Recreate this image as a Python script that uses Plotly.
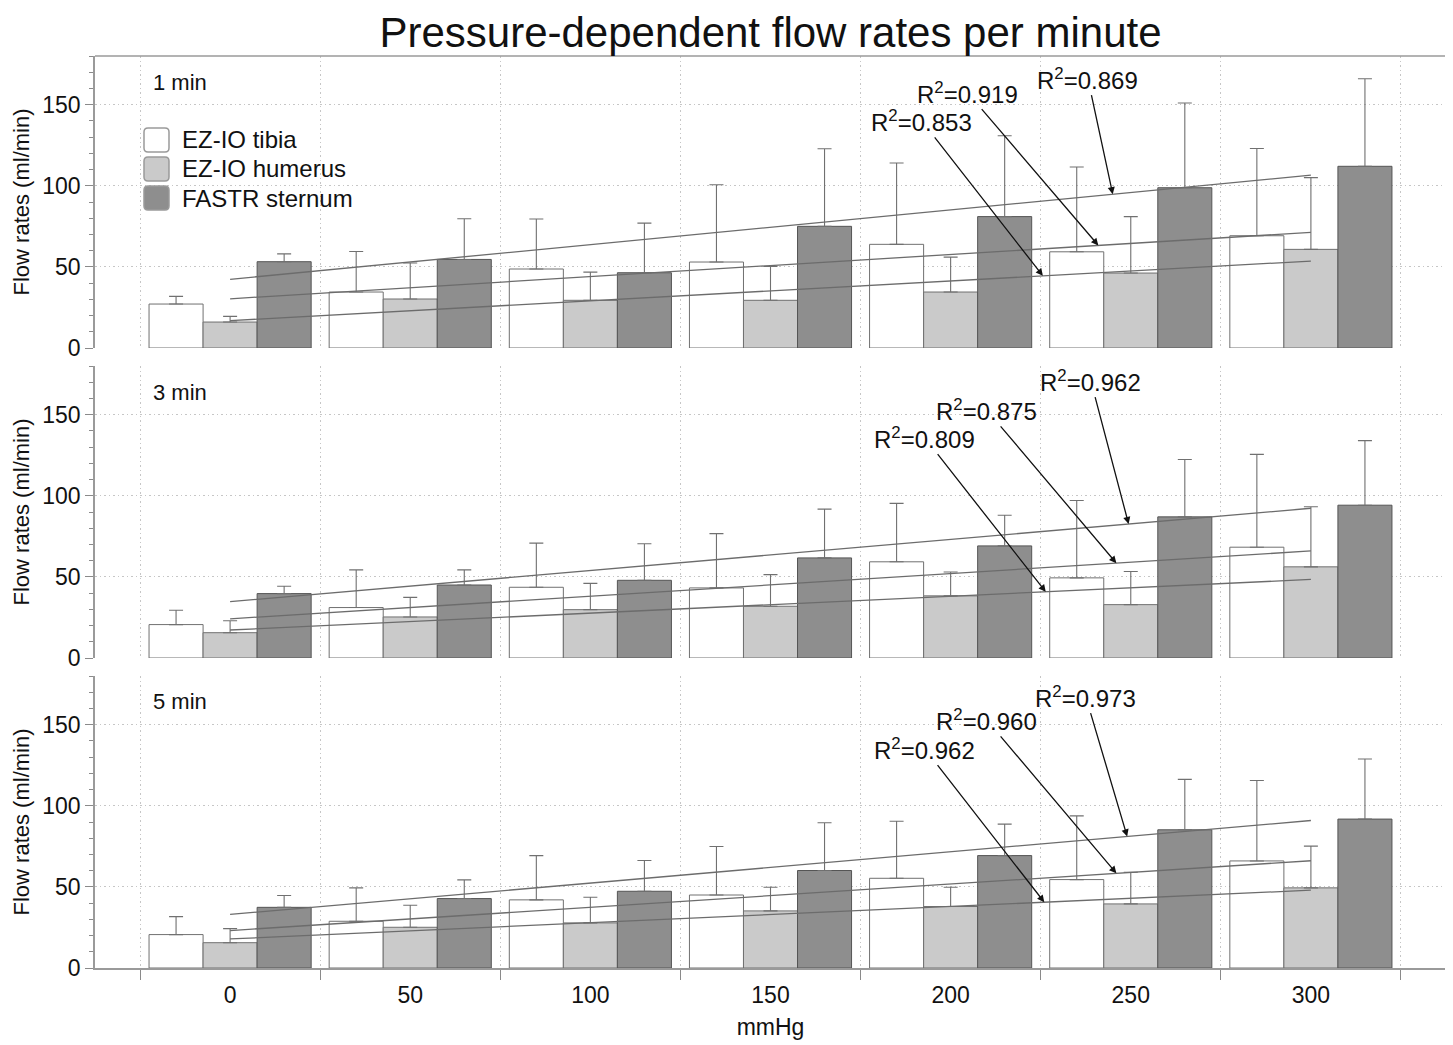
import numpy as np
import plotly.graph_objects as go

# ---------------- data ----------------
pressures = [0, 50, 100, 150, 200, 250, 300]
series_names = ["EZ-IO tibia", "EZ-IO humerus", "FASTR sternum"]
panel_labels = ["1 min", "3 min", "5 min"]

# mean flow rates (ml/min)
tibia_1min = [27.1, 34.5, 48.7, 53.0, 63.9, 59.3, 69.2]
humerus_1min = [16.0, 30.2, 29.4, 29.4, 34.5, 46.2, 60.8]
sternum_1min = [53.2, 54.6, 46.4, 75.0, 81.0, 98.8, 112.0]

tibia_3min = [20.6, 31.1, 43.6, 43.2, 59.3, 49.4, 68.3]
humerus_3min = [15.6, 25.3, 29.8, 31.9, 38.3, 32.9, 56.2]
sternum_3min = [39.7, 45.0, 47.9, 61.7, 69.1, 87.0, 94.2]

tibia_5min = [20.6, 28.8, 42.0, 45.0, 55.3, 54.5, 66.0]
humerus_5min = [15.6, 25.1, 27.8, 35.2, 37.9, 39.5, 49.4]
sternum_5min = [37.4, 42.8, 47.3, 60.1, 69.3, 85.2, 91.8]

# standard deviations (upper error bars)
tibia_1min_sd = [4.7, 25.0, 30.8, 47.6, 50.1, 52.3, 53.8]
humerus_1min_sd = [3.5, 22.2, 17.4, 20.9, 21.5, 34.8, 44.2]
sternum_1min_sd = [4.8, 25.1, 30.6, 47.8, 49.8, 52.2, 54.0]

tibia_3min_sd = [8.8, 23.2, 27.2, 33.5, 36.0, 47.7, 57.2]
humerus_3min_sd = [7.4, 12.1, 16.2, 19.5, 14.7, 20.4, 37.0]
sternum_3min_sd = [4.5, 9.3, 22.5, 30.1, 18.9, 35.4, 39.8]

tibia_5min_sd = [11.1, 20.6, 27.3, 29.9, 35.2, 39.3, 49.6]
humerus_5min_sd = [8.7, 13.6, 15.8, 14.6, 11.9, 19.5, 25.7]
sternum_5min_sd = [7.3, 11.5, 19.0, 29.4, 19.4, 31.1, 37.0]

# R^2 labels (tibia, humerus, sternum)
r2_1min = ["0.919", "0.853", "0.869"]
r2_3min = ["0.875", "0.809", "0.962"]
r2_5min = ["0.960", "0.962", "0.973"]

means = [
    [tibia_1min, humerus_1min, sternum_1min],
    [tibia_3min, humerus_3min, sternum_3min],
    [tibia_5min, humerus_5min, sternum_5min],
]
sds = [
    [tibia_1min_sd, humerus_1min_sd, sternum_1min_sd],
    [tibia_3min_sd, humerus_3min_sd, sternum_3min_sd],
    [tibia_5min_sd, humerus_5min_sd, sternum_5min_sd],
]
r2s = [r2_1min, r2_3min, r2_5min]

# ---------------- styling / layout ----------------
FONT = "Liberation Sans, Arial, Helvetica, sans-serif"
fills = ["#ffffff", "#cacaca", "#8e8e8e"]
outlines = ["#707070", "#707070", "#555555"]
OFF = 8                      # page body margin compensation
W, H = 1453 - OFF, 1045 - OFF
ML, MR, MT, MB = 87, 7, 48, 77
PW, PH = W - ML - MR, H - MT - MB


def paper_x(px):
    return (px - OFF - ML) / PW


def paper_y(py):
    return (H - MB - (py - OFF)) / PH


domains = [[620 / PH, 1.0], [310 / PH, 602 / PH], [0.0, 292 / PH]]
xr = [-37.5, 337.5]
yr = [0, 180]

# annotation arrow targets (x on regression line) and text positions (x, y)
arrow_x = [[241, 225.6, 245], [246, 226.4, 249.4], [246, 226, 249]]
text_pos = [
    [(204.7, 157.4), (192, 140), (238.1, 166)],
    [(210, 153), (192.8, 135.8), (238.9, 171)],
    [(210, 153), (192.8, 135.2), (237.5, 167.3)],
]

fig = go.Figure()
annotations = []
shapes = []

for p in range(3):
    xa = "x" if p == 0 else f"x{p+1}"
    ya = "y" if p == 0 else f"y{p+1}"
    for s in range(3):
        fig.add_trace(go.Bar(
            x=pressures, y=means[p][s], name=series_names[s],
            xaxis=xa, yaxis=ya, showlegend=False,
            marker=dict(color=fills[s], line=dict(color=outlines[s], width=1)),
            error_y=dict(type="data", symmetric=False, array=sds[p][s],
                         arrayminus=[0] * len(pressures),
                         color="#707070", thickness=1.1, width=7),
        ))
    for s in range(3):
        slope, icpt = np.polyfit(pressures, means[p][s], 1)
        xs = [pressures[0], pressures[-1]]
        fig.add_trace(go.Scatter(
            x=xs, y=[icpt + slope * v for v in xs], mode="lines",
            name=f"{series_names[s]} fit", xaxis=xa, yaxis=ya,
            showlegend=False, hoverinfo="skip",
            line=dict(color="#6c6c6c", width=1.3),
        ))
        hx = arrow_x[p][s]
        tx, ty = text_pos[p][s]
        annotations.append(dict(
            x=hx, y=icpt + slope * hx, xref=xa, yref=ya,
            ax=tx, ay=ty, axref=xa, ayref=ya,
            text=f"R<sup>2</sup>={r2s[p][s]}", showarrow=True,
            arrowhead=2, arrowsize=1.1, arrowwidth=1.3, arrowcolor="#111111",
            font=dict(size=24, color="#111111", family=FONT),
            standoff=0, startstandoff=0,
        ))
    # panel label
    annotations.append(dict(
        text=panel_labels[p], xref="paper", yref="paper",
        x=paper_x(151), y=domains[p][1] - 26 / PH,
        xanchor="left", yanchor="middle", showarrow=False,
        font=dict(size=22, color="#111111", family=FONT),
    ))

# custom legend in top panel (rounded boxes + labels)
legend_tops = [128, 157, 186]
for s in range(3):
    r = 4
    px0, px1 = 144, 169
    py0, py1 = legend_tops[s], legend_tops[s] + 24
    pts = [
        ("M", [(px0 + r, py0)]), ("L", [(px1 - r, py0)]), ("Q", [(px1, py0), (px1, py0 + r)]),
        ("L", [(px1, py1 - r)]), ("Q", [(px1, py1), (px1 - r, py1)]),
        ("L", [(px0 + r, py1)]), ("Q", [(px0, py1), (px0, py1 - r)]),
        ("L", [(px0, py0 + r)]), ("Q", [(px0, py0), (px0 + r, py0)]),
    ]
    path = " ".join(
        cmd + " " + " ".join(f"{paper_x(a):.6f},{paper_y(b):.6f}" for a, b in cs)
        for cmd, cs in pts) + " Z"
    shapes.append(dict(type="path", path=path, xref="paper", yref="paper",
                       fillcolor=fills[s], line=dict(color="#9a9a9a", width=1.5)))
    annotations.append(dict(
        text=series_names[s], xref="paper", yref="paper",
        x=paper_x(180), y=paper_y(legend_tops[s] + 12),
        xanchor="left", yanchor="middle", showarrow=False,
        font=dict(size=24, color="#111111", family=FONT),
    ))

# frame: top and right border
shapes.append(dict(type="line", xref="paper", yref="paper", x0=0, x1=1, y0=1, y1=1,
                   line=dict(color="#9a9a9a", width=1.5)))
shapes.append(dict(type="line", xref="paper", yref="paper", x0=1, x1=1, y0=0, y1=1,
                   line=dict(color="#9a9a9a", width=1.5)))

grid_c = "#c6c6c6"
grid_dash = "1.5px,3px"
layout = dict(
    width=W, height=H,
    margin=dict(l=ML, r=MR, t=MT, b=MB),
    paper_bgcolor="white", plot_bgcolor="white",
    font=dict(family=FONT, size=23, color="#111111"),
    barmode="group", bargap=0.1, bargroupgap=0,
    title=dict(text="Pressure-dependent flow rates per minute", x=0.5, xref="paper",
               xanchor="center", y=1 - 24 / H, yref="container", yanchor="middle",
               font=dict(size=42, color="#111111", family=FONT)),
    annotations=annotations, shapes=shapes,
)

for p in range(3):
    xkey = "xaxis" if p == 0 else f"xaxis{p+1}"
    ykey = "yaxis" if p == 0 else f"yaxis{p+1}"
    ya = "y" if p == 0 else f"y{p+1}"
    xa = "x" if p == 0 else f"x{p+1}"
    bottom = (p == 2)
    xax = dict(
        domain=[0, 1], anchor=ya, range=xr,
        tickmode="array", tickvals=pressures, ticktext=[str(v) for v in pressures],
        showticklabels=bottom, ticks="", showgrid=False, zeroline=False,
        showline=bottom, linecolor="#9a9a9a", linewidth=1.5,
        tickfont=dict(size=23, color="#111111"),
        minor=dict(tick0=-25, dtick=50, showgrid=True, griddash=grid_dash,
                   gridcolor=grid_c, gridwidth=1,
                   ticks="outside" if bottom else "", ticklen=10,
                   tickcolor="#8a8a8a", tickwidth=1.3),
    )
    if bottom:
        xax["ticklabelstandoff"] = 6
        xax["title"] = dict(text="mmHg", font=dict(size=23), standoff=12)
    else:
        xax["matches"] = "x3"
    layout[xkey] = xax
    layout[ykey] = dict(
        domain=domains[p], anchor=xa, range=yr,
        tickmode="array", tickvals=[0, 50, 100, 150],
        ticks="outside", ticklen=8, tickwidth=1.3, tickcolor="#8a8a8a",
        showline=True, linecolor="#9a9a9a", linewidth=1.5,
        showgrid=True, griddash=grid_dash, gridcolor=grid_c, gridwidth=1,
        zeroline=False,
        tickfont=dict(size=23, color="#111111"),
        minor=dict(dtick=10, ticks="outside", ticklen=4, tickcolor="#8a8a8a",
                   tickwidth=1, showgrid=False),
        title=dict(text="Flow rates (ml/min)", font=dict(size=22), standoff=7),
    )

fig.update_layout(**layout)
fig.write_html("out.html")
